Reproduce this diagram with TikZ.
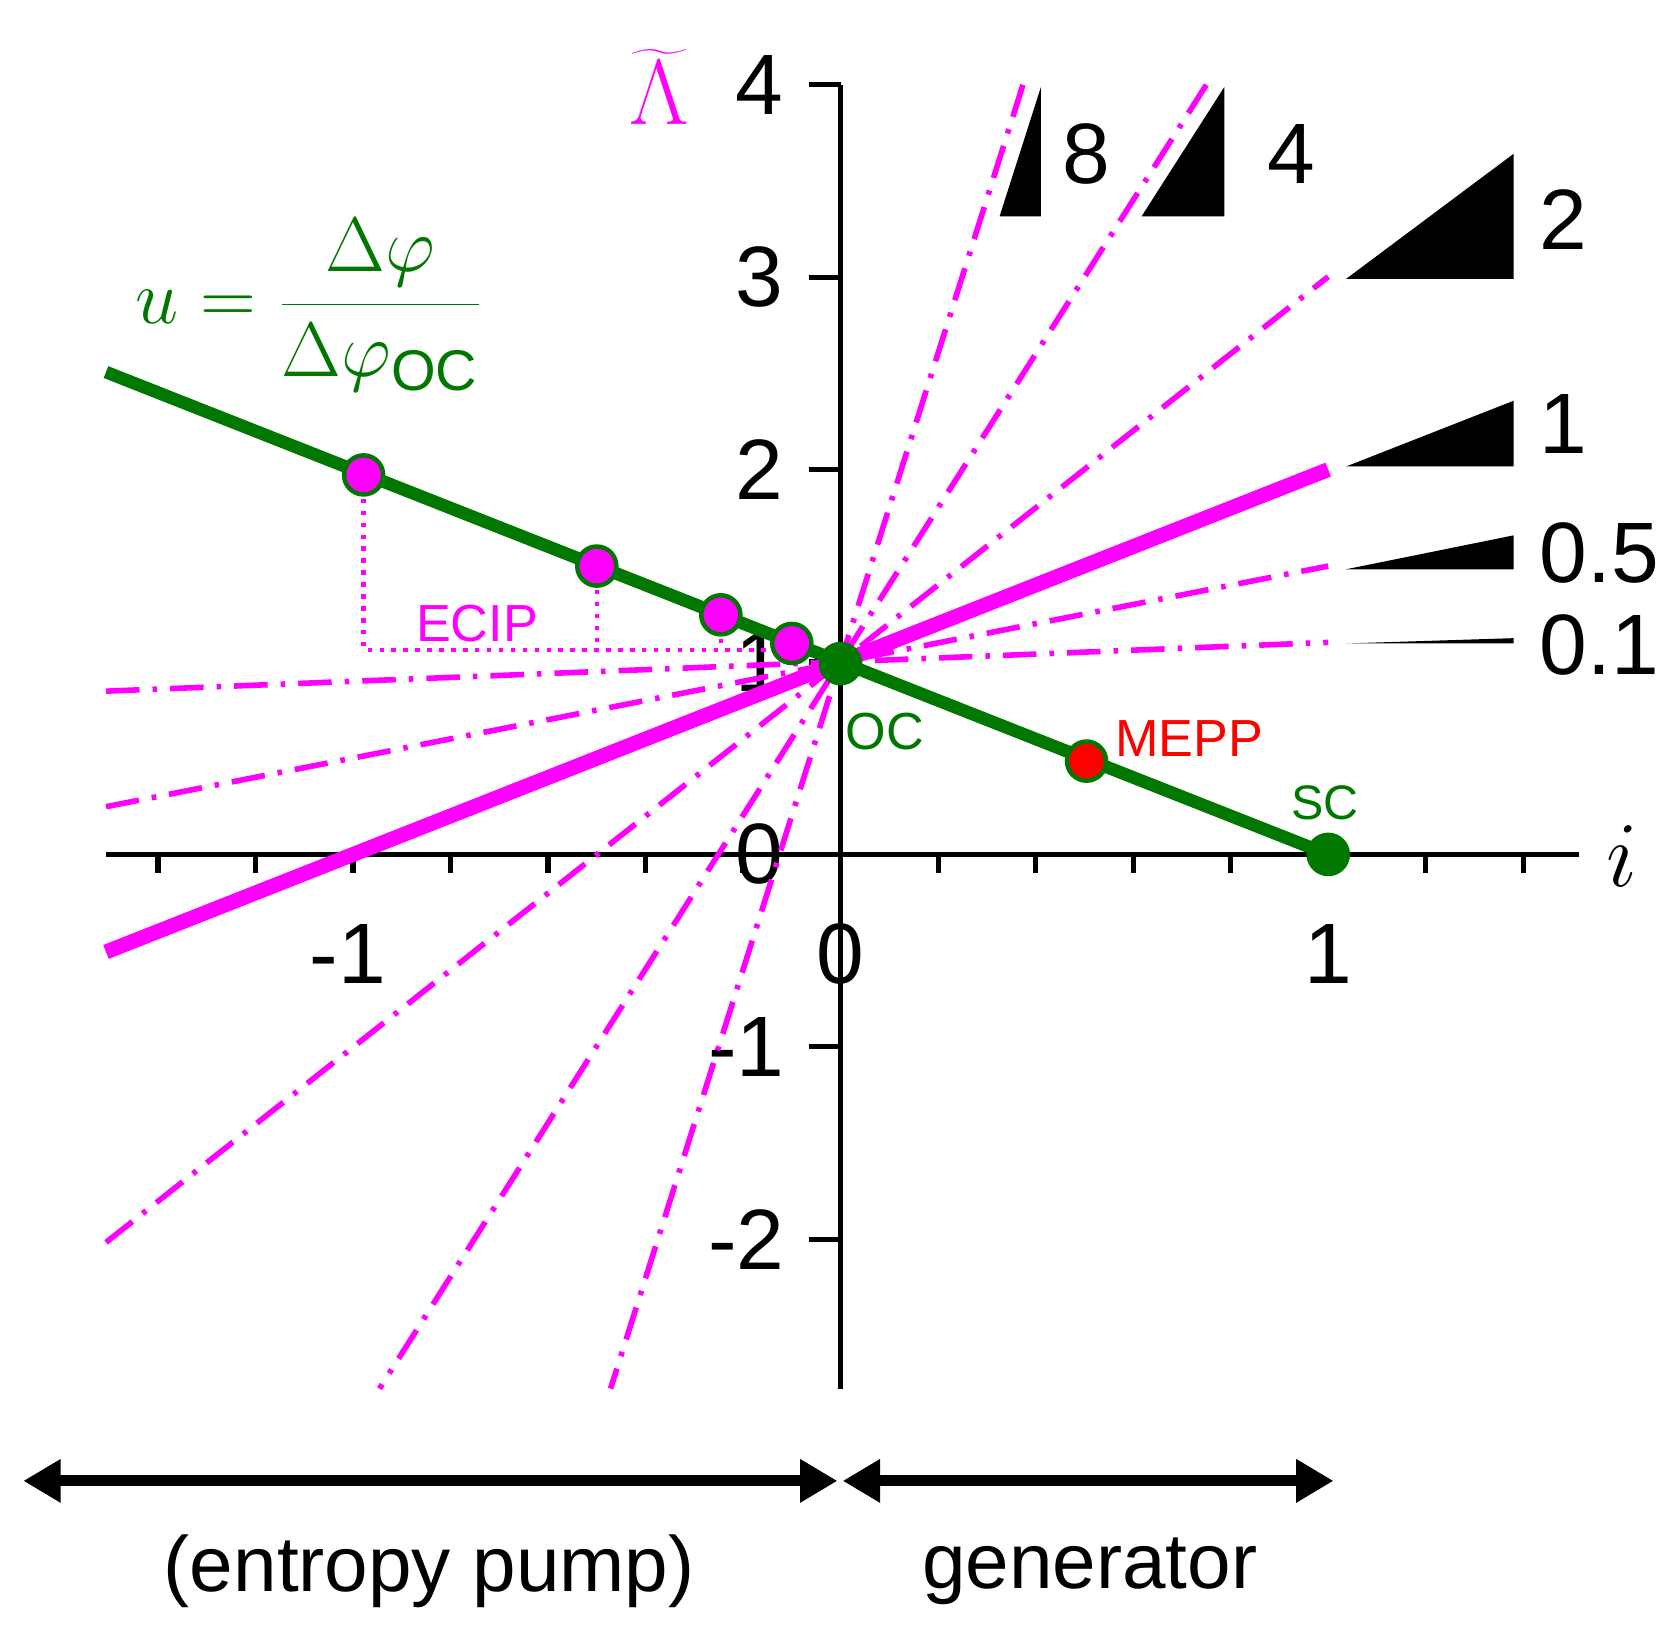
\documentclass[tikz,border=0pt]{standalone}
\usepackage{fontspec}
\setmainfont{Liberation Sans}
\usetikzlibrary{arrows.meta}
\definecolor{mag}{RGB}{255,0,255}
\definecolor{grn}{RGB}{0,120,0}
\tikzset{
  dd/.style={mag,line width=1.5pt,dash pattern=on 9pt off 3.5pt on 1.2pt off 3.5pt},
  pt/.style={circle,draw=grn,line width=1.2pt,minimum size=10.5pt,inner sep=0pt},
  tk/.style={font=\fontsize{23}{23}\selectfont},
  sl/.style={font=\fontsize{23}{23}\selectfont,anchor=west},
  tri/.style={fill=black},
  big/.style={line width=3pt,{Triangle[length=10pt,width=11pt]}-{Triangle[length=10pt,width=11pt]}}
}
\begin{document}
\begin{tikzpicture}[x=0.01cm,y=-0.01cm]
\useasboundingbox (0,0) rectangle (1566,1538);
% axes
\draw[line width=1.4pt] (100,806) -- (1490,806);
\foreach \i in {-7,...,7} \draw[line width=1.4pt] ({793+92*\i},806) -- ({793+92*\i},824);
\draw[line width=1.4pt] (793,80) -- (793,1310);
\foreach \v in {-2,-1,1,2,3,4} \draw[line width=1.4pt] (763,{806-181.5*\v}) -- (793,{806-181.5*\v});
\foreach \v/\t in {4/4,3/3,2/2,1/1,0/0} \node[tk] at (716,{806-181.5*\v}) {\t};
\foreach \v/\t in {-1/-1,-2/-2} \node[tk] at (704,{806-181.5*\v}) {\t};
\node[tk] at (328,900) {-1};
\node[tk] at (793,900) {0};
\node[tk] at (1253,900) {1};
\node[mag,font=\fontsize{30}{30}\selectfont] at (622,82) {$\widetilde{\Lambda}$};
\node[font=\fontsize{30}{30}\selectfont] at (1530,808) {$i$};
% magenta lines
\draw[dd] (100,652) -- (1253,606);
\draw[dd] (100,761) -- (1253,534);
\draw[dd] (100,1172) -- (1253,261);
\draw[dd] (1138,80) -- (358,1310);
\draw[dd] (965,80) -- (576,1310);
\draw[mag,line width=4pt] (100,898) -- (1253,443);
% green line
\draw[grn,line width=3.4pt] (100,351) -- (1253,806);
% slope triangles
\fill[tri] (1270,263) -- (1428,263) -- (1428,145) -- cycle;
\fill[tri] (1270,440) -- (1428,440) -- (1428,378) -- cycle;
\fill[tri] (1270,537) -- (1428,537) -- (1428,505) -- cycle;
\fill[tri] (1270,607) -- (1428,607) -- (1428,602) -- cycle;
\fill[tri] (1077,204) -- (1155,204) -- (1155,82) -- cycle;
\fill[tri] (943,204) -- (982,204) -- (982,82) -- cycle;
\node[sl] at (990,145) {8};
\node[sl] at (1183,145) {4};
\node[sl] at (1440,207) {2};
\node[sl] at (1440,400) {1};
\node[sl] at (1440,522) {0.5};
\node[sl] at (1440,608) {0.1};
% ECIP
\draw[mag,line width=1.2pt,dotted] (343,448) -- (343,613) -- (735,613);
\draw[mag,line width=1.2pt,dotted] (563,534) -- (563,613);
\draw[mag,line width=1.2pt,dotted] (680,580) -- (680,613);
\node[mag,font=\fontsize{14}{14}\selectfont] at (450,588) {ECIP};
\node[pt,fill=mag] (e1) at (343,448) {};
\node[pt,fill=mag] (e2) at (563,534) {};
\node[pt,fill=mag] (e3) at (680,580) {};
\node[pt,fill=mag] (e4) at (747,607) {};
\node[pt,fill=grn] (oc) at (793,626) {};
\node[pt,fill=red] (mepp) at (1025,718) {};
\node[pt,fill=grn] (sc) at (1253,806) {};
\node[grn,font=\fontsize{14}{14}\selectfont] at (835,690) {OC};
\node[grn,font=\fontsize{13}{13}\selectfont] at (1250,757) {SC};
\node[red,font=\fontsize{14}{14}\selectfont] at (1122,697) {MEPP};
% formula
\node[grn,font=\fontsize{22}{22}\selectfont] at (292,288) {$\displaystyle u=\frac{\Delta\varphi}{\Delta\varphi_{\mathrm{OC}}}$};
% bottom arrows
\coordinate (a1) at (22,1397); \coordinate (a2) at (790,1397);
\coordinate (b1) at (795,1397); \coordinate (b2) at (1258,1397);
\draw[big] (a1) -- (a2);
\draw[big] (b1) -- (b2);
\node[font=\fontsize{21}{21}\selectfont] at (405,1482) {(entropy pump)};
\node[font=\fontsize{21}{21}\selectfont] at (1028,1482) {generator};
\end{tikzpicture}
\end{document}
